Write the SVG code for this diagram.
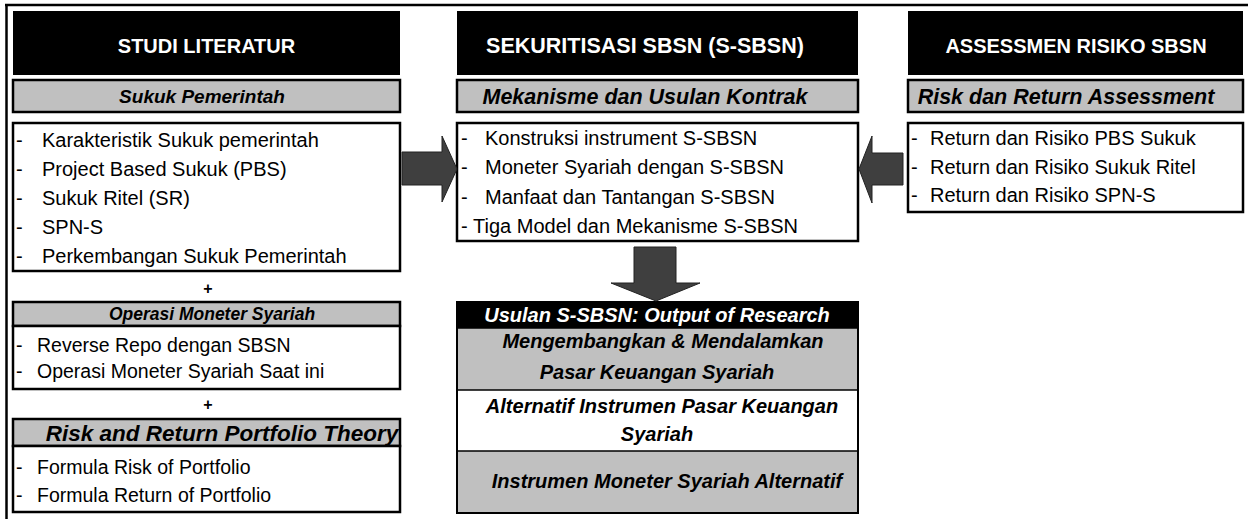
<svg xmlns="http://www.w3.org/2000/svg" width="1248" height="519" viewBox="0 0 1248 519">
<defs>
<style>
.hdr{fill:#000}
.hdrt{font-family:"Liberation Sans",Arial,sans-serif;font-weight:bold;font-size:20px;fill:#fff;text-anchor:middle}
.gray{fill:#c0c0c0;stroke:#000;stroke-width:2.5}
.box{fill:#fff;stroke:#000;stroke-width:2.5}
.gt{font-family:"Liberation Sans",Arial,sans-serif;font-weight:bold;font-style:italic;font-size:19px;fill:#000;text-anchor:middle}
.li{font-family:"Liberation Sans",Arial,sans-serif;font-size:20px;fill:#000}
.plus{font-family:"Liberation Sans",Arial,sans-serif;font-weight:bold;font-size:16px;fill:#000;text-anchor:middle}
.arrow{fill:#3f3f3f;stroke:#222;stroke-width:1}
.ot{font-family:"Liberation Sans",Arial,sans-serif;font-weight:bold;font-style:italic;font-size:20px;fill:#000;text-anchor:middle}
</style>
</defs>
<rect width="1248" height="519" fill="#fff"/>
<g id="frame">
<line x1="5" y1="5" x2="1248" y2="5" stroke="#000" stroke-width="2.5"/>
<line x1="6.5" y1="4" x2="6.5" y2="519" stroke="#000" stroke-width="2.5"/>
</g>
<g id="studi-literatur">
<rect class="hdr" x="13" y="11" width="387" height="64"/>
<text class="hdrt" x="206.5" y="53">STUDI LITERATUR</text>
<rect class="gray" x="13" y="80" width="387" height="32"/>
<text class="gt" x="202" y="103">Sukuk Pemerintah</text>
<rect class="box" x="13" y="123" width="387" height="148"/>
<text class="li" x="16" y="147">-</text><text class="li" x="42" y="147">Karakteristik Sukuk pemerintah</text>
<text class="li" x="16" y="176">-</text><text class="li" x="42" y="176">Project Based Sukuk (PBS)</text>
<text class="li" x="16" y="205">-</text><text class="li" x="42" y="205">Sukuk Ritel (SR)</text>
<text class="li" x="16" y="234">-</text><text class="li" x="42" y="234">SPN-S</text>
<text class="li" x="16" y="263">-</text><text class="li" x="42" y="263">Perkembangan Sukuk Pemerintah</text>
</g>
<g id="plus1"><text class="plus" x="208" y="294">+</text></g>
<g id="operasi-moneter">
<rect class="gray" x="13" y="302" width="387" height="24"/>
<text class="gt" x="212" y="320" style="font-size:17.5px">Operasi Moneter Syariah</text>
<rect class="box" x="13" y="326" width="387" height="63"/>
<text class="li" x="16" y="352" style="font-size:19.5px">-</text><text class="li" x="37" y="352" style="font-size:19.5px">Reverse Repo dengan SBSN</text>
<text class="li" x="16" y="378" style="font-size:19.5px">-</text><text class="li" x="37" y="378" style="font-size:19.5px">Operasi Moneter Syariah Saat ini</text>
</g>
<g id="plus2"><text class="plus" x="208" y="410">+</text></g>
<g id="portfolio-theory">
<rect class="gray" x="13" y="419" width="387" height="27"/>
<text class="gt" x="222" y="441" style="font-size:22.5px">Risk and Return Portfolio Theory</text>
<rect class="box" x="13" y="446" width="387" height="66"/>
<text class="li" x="16" y="474" style="font-size:19.5px">-</text><text class="li" x="37" y="474" style="font-size:19.5px">Formula Risk of Portfolio</text>
<text class="li" x="16" y="502" style="font-size:19.5px">-</text><text class="li" x="37" y="502" style="font-size:19.5px">Formula Return of Portfolio</text>
</g>
<g id="sekuritisasi">
<rect class="hdr" x="457" y="11" width="401" height="64"/>
<text class="hdrt" x="645" y="53" style="font-size:21.5px">SEKURITISASI SBSN (S-SBSN)</text>
<rect class="gray" x="457" y="80" width="401" height="32"/>
<text class="gt" x="645" y="104" style="font-size:21.5px">Mekanisme dan Usulan Kontrak</text>
<rect class="box" x="457" y="123" width="401" height="118"/>
<text class="li" x="461" y="145">-</text><text class="li" x="485" y="145">Konstruksi instrument S-SBSN</text>
<text class="li" x="461" y="174">-</text><text class="li" x="485" y="174">Moneter Syariah dengan S-SBSN</text>
<text class="li" x="461" y="204">-</text><text class="li" x="485" y="204">Manfaat dan Tantangan S-SBSN</text>
<text class="li" x="461" y="233">-</text><text class="li" x="473" y="233">Tiga Model dan Mekanisme S-SBSN</text>
</g>
<g id="assessmen">
<rect class="hdr" x="908" y="11" width="335" height="64"/>
<text class="hdrt" x="1076" y="53">ASSESSMEN RISIKO SBSN</text>
<rect class="gray" x="908" y="80" width="335" height="32"/>
<text class="gt" x="1066" y="104" style="font-size:21.5px">Risk dan Return Assessment</text>
<rect class="box" x="908" y="123" width="335" height="89"/>
<text class="li" x="911" y="145">-</text><text class="li" x="930" y="145">Return dan Risiko PBS Sukuk</text>
<text class="li" x="911" y="174">-</text><text class="li" x="930" y="174">Return dan Risiko Sukuk Ritel</text>
<text class="li" x="911" y="202">-</text><text class="li" x="930" y="202">Return dan Risiko SPN-S</text>
</g>
<g id="output">
<rect x="457" y="302" width="401" height="211" fill="#fff" stroke="#000" stroke-width="2"/>
<rect x="457" y="302" width="401" height="26" fill="#000"/>
<rect x="457" y="328" width="401" height="62" fill="#c0c0c0" stroke="#000" stroke-width="1.5"/>
<rect x="457" y="451" width="401" height="62" fill="#c0c0c0" stroke="#000" stroke-width="1.5"/>
<rect x="457" y="302" width="401" height="211" fill="none" stroke="#000" stroke-width="2"/>
<text class="ot" x="657" y="322" style="fill:#fff">Usulan S-SBSN: Output of Research</text>
<text class="ot" x="663" y="348">Mengembangkan &amp; Mendalamkan</text>
<text class="ot" x="657" y="379">Pasar Keuangan Syariah</text>
<text class="ot" x="662" y="413">Alternatif Instrumen Pasar Keuangan</text>
<text class="ot" x="657" y="441">Syariah</text>
<text class="ot" x="667" y="488">Instrumen Moneter Syariah Alternatif</text>
</g>
<g id="connectors">
<polygon class="arrow" points="402,152 442,152 442,136 457,169 442,202 442,185 402,185"/>
<polygon class="arrow" points="903,153 872,153 872,136 859,169 872,203 872,185 903,185"/>
<polygon class="arrow" points="634,247 676,247 676,283 700,283 656,301 611,283 634,283"/>
</g>
</svg>
